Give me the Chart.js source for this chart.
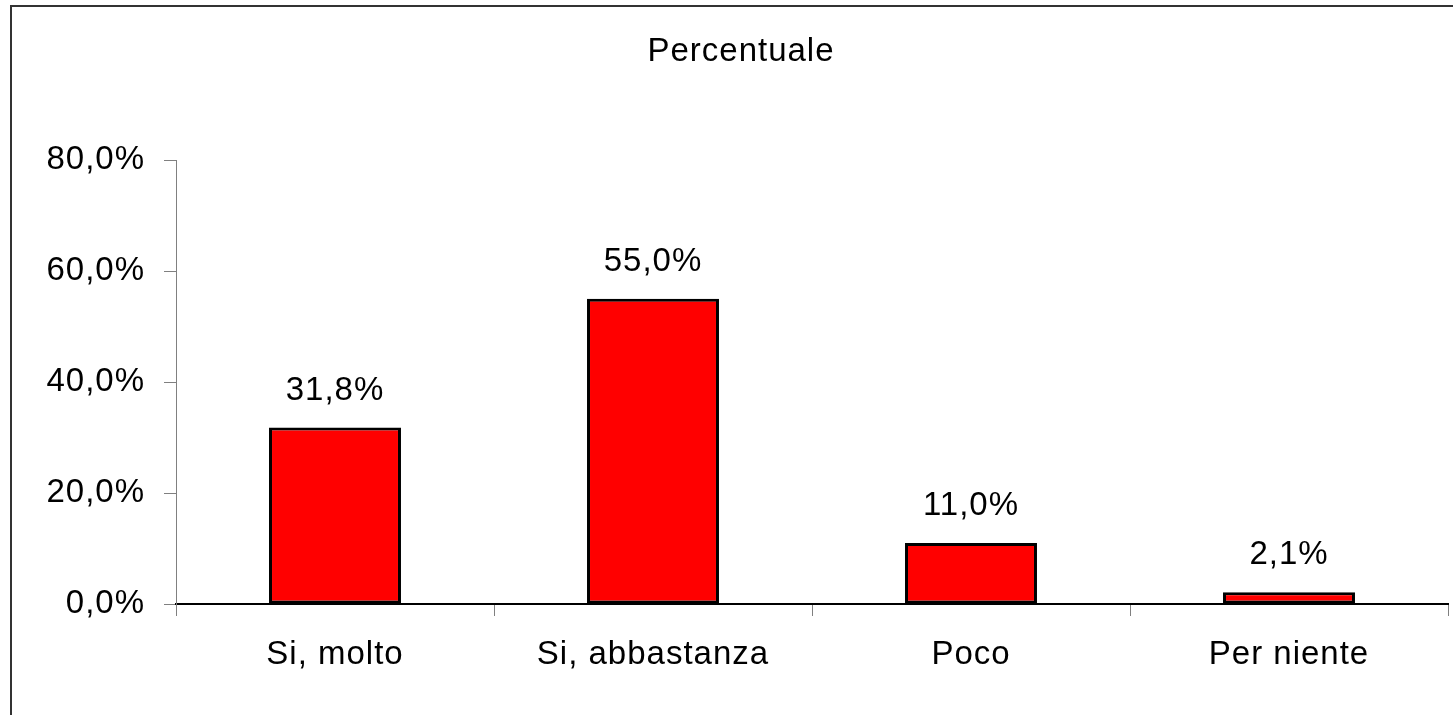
<!DOCTYPE html>
<html>
<head>
<meta charset="utf-8">
<script src="https://cdn.jsdelivr.net/npm/chart.js@4/dist/chart.umd.min.js"></script>
<style>
  body { margin: 0; background: #fff; }
  canvas { display: block; }
</style>
</head>
<body>
<canvas id="chart" width="1453" height="715"></canvas>
<script>
const categories = ['Si, molto', 'Si, abbastanza', 'Poco', 'Per niente'];
const percentValues = [31.8, 55.0, 11.0, 2.1];
const chartTitle = 'Percentuale';

const fontFamily = '"Liberation Sans", Arial, sans-serif';

// italian style: comma as decimal separator
const fmt = (v) => v.toFixed(1).replace('.', ',') + '%';

// outer frame round the whole picture, plus the title
const framePlugin = {
  id: 'frame',
  beforeDraw(chart) {
    const ctx = chart.ctx;
    // the original text is a little wider spaced than Liberation Sans
    ctx.letterSpacing = '1px';
    ctx.save();
    ctx.fillStyle = '#fff';
    ctx.fillRect(0, 0, chart.width, chart.height);
    ctx.strokeStyle = '#333';
    ctx.lineWidth = 2;
    ctx.strokeRect(11, 6, 3000, 3000);

    ctx.font = '33px ' + fontFamily;
    ctx.fillStyle = '#000';
    ctx.textAlign = 'center';
    ctx.textBaseline = 'alphabetic';
    ctx.fillText(chartTitle, 741, 61);
    ctx.restore();
  }
};

// value labels above each bar
const valueLabels = {
  id: 'valueLabels',
  afterDatasetsDraw(chart) {
    const ctx = chart.ctx;
    const meta = chart.getDatasetMeta(0);
    ctx.save();
    ctx.font = '33px ' + fontFamily;
    ctx.fillStyle = '#000';
    ctx.textAlign = 'center';
    ctx.textBaseline = 'alphabetic';
    meta.data.forEach((bar, i) => {
      ctx.fillText(fmt(percentValues[i]), bar.x, bar.y - 28);
    });
    ctx.restore();
  }
};

new Chart(document.getElementById('chart'), {
  type: 'bar',
  data: {
    labels: categories,
    datasets: [{
      data: percentValues,
      backgroundColor: '#ff0000',
      borderColor: '#000',
      borderWidth: 3,
      borderSkipped: false,
      barPercentage: 0.415,
      categoryPercentage: 1,
    }],
  },
  options: {
    responsive: false,
    animation: false,
    layout: { padding: { left: 0, right: 5, top: 160, bottom: 0 } },
    plugins: {
      legend: { display: false },
      tooltip: { enabled: false },
      title: { display: false },
    },
    scales: {
      x: {
        grid: { offset: true, drawOnChartArea: false, tickLength: 12, color: '#808080' },
        border: { color: '#000', width: 2 },
        ticks: { color: '#000', padding: 19, font: { family: fontFamily, size: 33 }, maxRotation: 0 },
        afterFit(scale) { scale.height = 111; },
      },
      y: {
        min: 0,
        max: 80,
        ticks: {
          stepSize: 20,
          color: '#000',
          padding: 19,
          font: { family: fontFamily, size: 33 },
          callback: (v) => fmt(v),
        },
        grid: { drawOnChartArea: false, tickLength: 12, color: '#808080' },
        border: { color: '#808080', width: 1 },
        afterFit(scale) { scale.width = 176; },
      },
    },
  },
  plugins: [framePlugin, valueLabels],
});
</script>
</body>
</html>
